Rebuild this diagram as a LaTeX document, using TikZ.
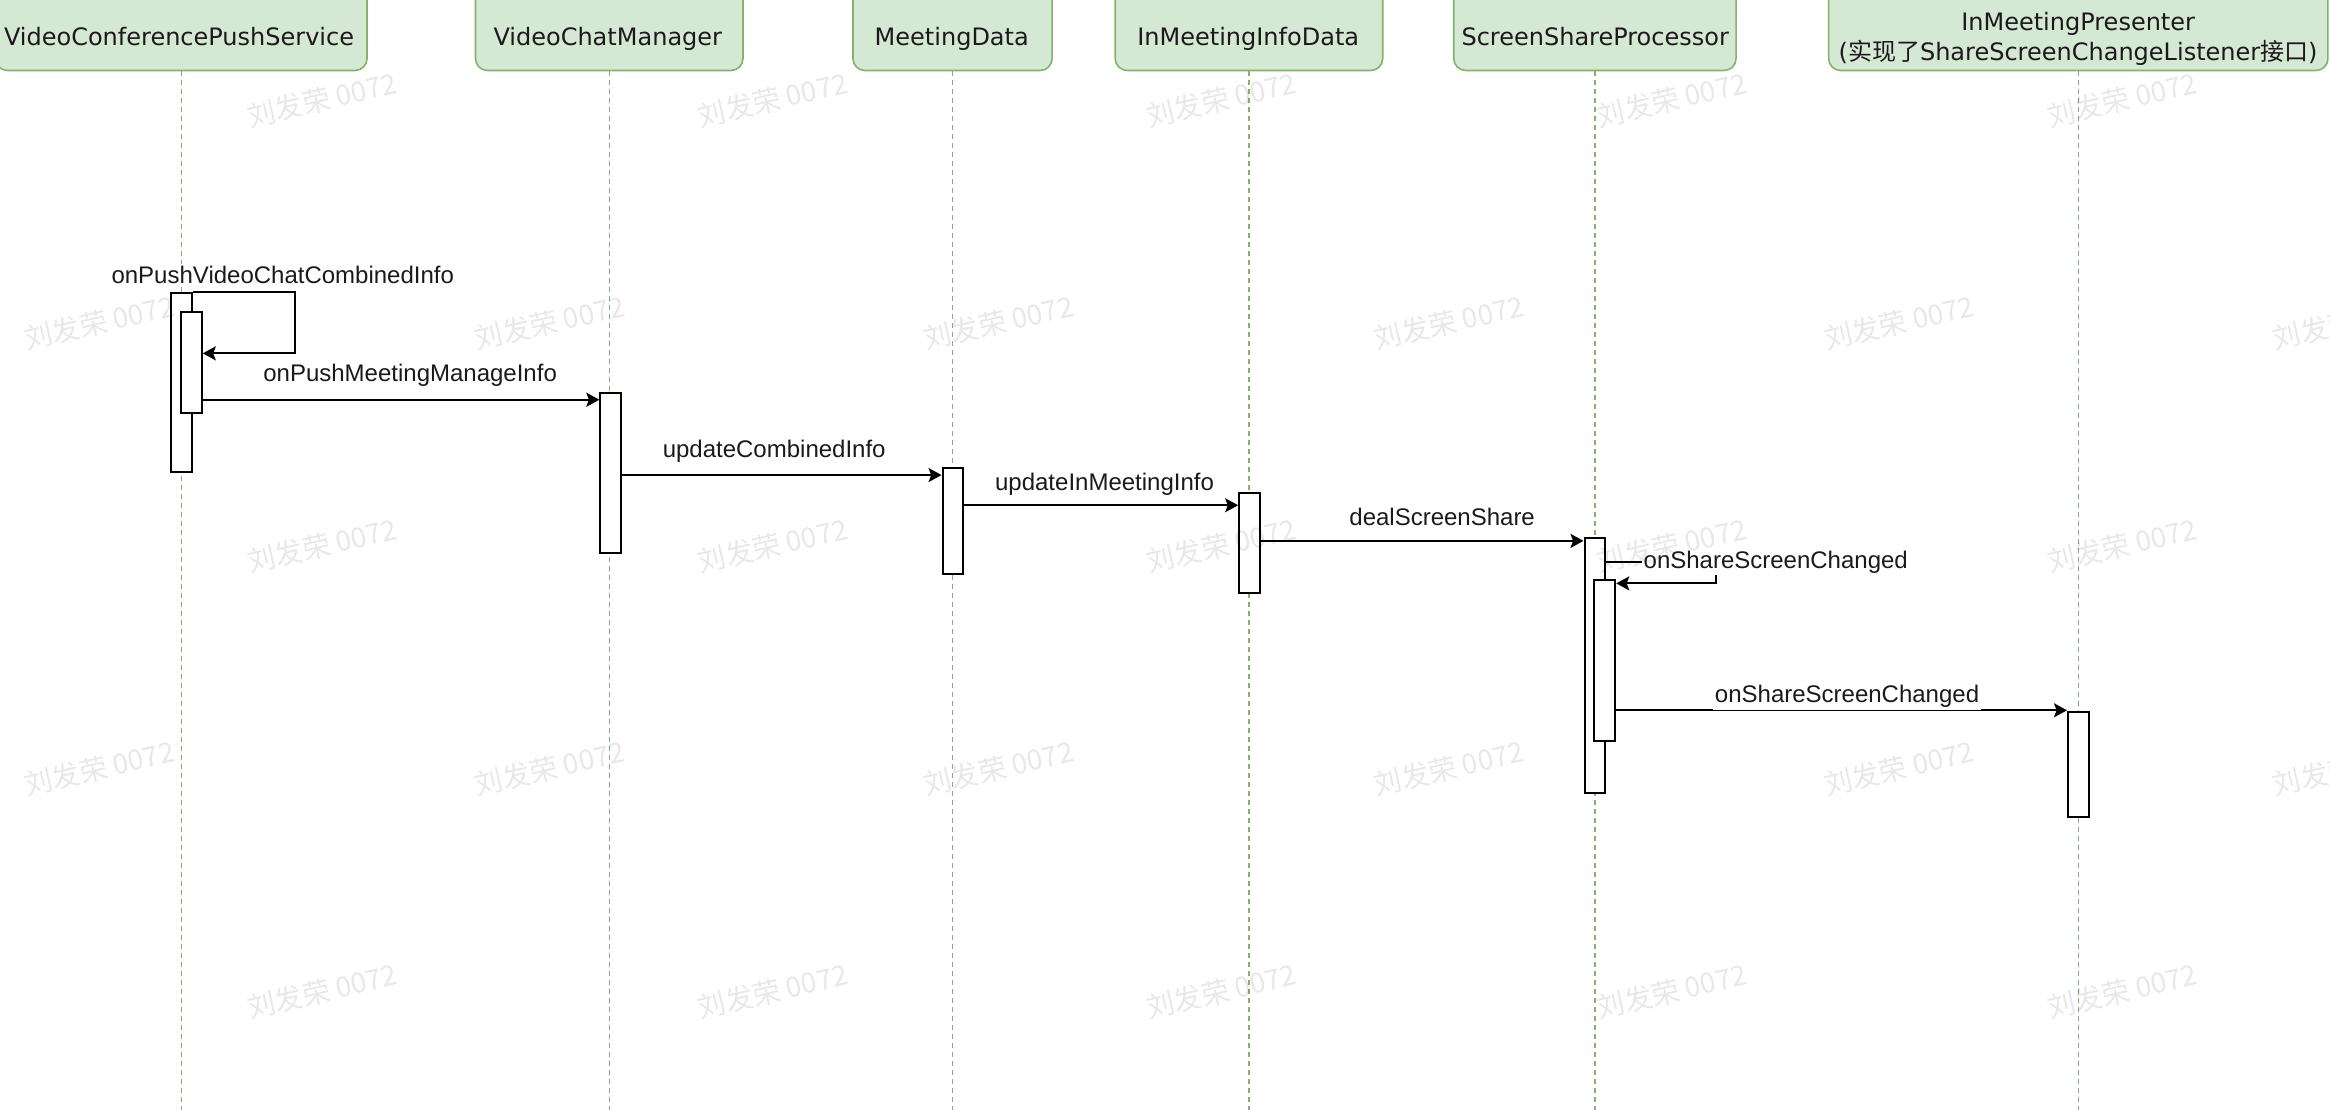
\documentclass[tikz,border=0pt]{standalone}
\usepackage{fontspec}
\setmainfont{Liberation Sans}
\newfontfamily\hdrfont{DejaVu Sans}
\newfontfamily\cjk{Noto Sans CJK SC}
\usetikzlibrary{arrows.meta}
\newlength\px \setlength\px{0.743pt}
\definecolor{hdrfill}{HTML}{D5E8D4}
\definecolor{hdrline}{HTML}{82B366}
\definecolor{lifec}{HTML}{82B366}
\definecolor{txt}{HTML}{1A1A1A}
\begin{document}
\begin{tikzpicture}[x=0.743pt, y=-0.743pt,
  hdrbox/.style={draw=hdrline, fill=hdrfill, line width=0.8pt, rounded corners=6pt, inner sep=0pt, rectangle},
  hdrtext/.style={font=\hdrfont\fontsize{12}{14}\selectfont, text=txt, inner sep=0pt, anchor=base},
  life/.style={draw=lifec, line width=0.6pt, dash pattern=on 2.5pt off 2pt},
  actbar/.style={draw=black, fill=white, line width=1pt, minimum width=14\px, inner sep=0pt, rectangle},
  msg/.style={draw=black, line width=1pt, -{Stealth[length=6.5pt,width=7pt,inset=1.3pt]}},
  msglabel/.style={font=\fontsize{12}{14}\selectfont, text=txt, fill=white, inner sep=1pt, anchor=base},
  wmark/.style={font=\cjk\fontsize{14}{16}\selectfont, text=black, text opacity=0.09, rotate=13, inner sep=0pt},
]
\useasboundingbox (0,0) rectangle (1568,747);
\fill[white] (0,0) rectangle (1568,747);
\coordinate (bottom) at (0,747);

% header boxes
\node[hdrbox, minimum width=250\px, minimum height=60\px, anchor=south] (h1) at (122,48) {};
\node[hdrbox, minimum width=180\px, minimum height=60\px, anchor=south] (h2) at (410,48) {};
\node[hdrbox, minimum width=134\px, minimum height=60\px, anchor=south] (h3) at (641,48) {};
\node[hdrbox, minimum width=180\px, minimum height=60\px, anchor=south] (h4) at (840.5,48) {};
\node[hdrbox, minimum width=190\px, minimum height=60\px, anchor=south] (h5) at (1073.3,48) {};
\node[hdrbox, minimum width=336\px, minimum height=60\px, anchor=south] (h6) at (1398.6,48) {};

% lifelines
\foreach \h in {h1,h2,h3,h4,h5,h6}
  \draw[life] (\h.south) -- (\h.south |- bottom);

% header texts
\node[hdrtext] (t1) at (120.5,30.4) {VideoConferencePushService};
\node[hdrtext] (t2) at (409,30.4) {VideoChatManager};
\node[hdrtext] (t3) at (640.5,30.4) {MeetingData};
\node[hdrtext] (t4) at (840,30.4) {InMeetingInfoData};
\node[hdrtext] (t5) at (1073.5,30.4) {ScreenShareProcessor};
\node[hdrtext] (t6a) at (1398.5,20.8) {InMeetingPresenter};
\node[hdrtext] (t6b) at (1398.5,40.6) {({\cjk 实现了}ShareScreenChangeListener{\cjk 接口})};

% activation bars
\node[actbar, minimum height=120.4\px] (a1) at (122.3,257.2) {};
\node[actbar, minimum height=68\px]    (a2) at (128.8,244) {};
\node[actbar, minimum height=108.2\px] (b1) at (411,318.3) {};
\node[actbar, minimum height=71\px]    (c1) at (641.3,350.6) {};
\node[actbar, minimum height=67.8\px]  (d1) at (840.9,365.4) {};
\node[actbar, minimum height=171.5\px] (e1) at (1073.3,448) {};
\node[actbar, minimum height=108.5\px] (e2) at (1080,444.3) {};
\node[actbar, minimum height=70.6\px]  (p1) at (1398.7,514.3) {};

% message levels
\coordinate (k1) at (198.5,237.8);
\coordinate (m2) at (0,269);
\coordinate (m3) at (0,319.7);
\coordinate (m4) at (0,340);
\coordinate (m5) at (0,364);
\coordinate (k2a) at (1154.8,378);
\coordinate (k2b) at (1154.8,392.6);
\coordinate (m7) at (0,478);

% messages
\draw[msg] (a1.north east) -| (k1) -- (a2.east |- k1);
\draw[msg] (a2.east |- m2) -- (b1.west |- m2);
\draw[msg] (b1.east |- m3) -- (c1.west |- m3);
\draw[msg] (c1.east |- m4) -- (d1.west |- m4);
\draw[msg] (d1.east |- m5) -- (e1.west |- m5);
\draw[msg] (e1.east |- k2a) -- (k2a) -- (k2b) -- (e2.east |- k2b);
\draw[msg] (e2.east |- m7) -- (p1.west |- m7);

% labels
\node[msglabel] (l1) at (190.3,191) {onPushVideoChatCombinedInfo};
\node[msglabel] (l2) at (276,257) {onPushMeetingManageInfo};
\node[msglabel] (l3) at (521,308) {updateCombinedInfo};
\node[msglabel] (l4) at (743.3,329.8) {updateInMeetingInfo};
\node[msglabel] (l5) at (970.5,353.8) {dealScreenShare};
\node[msglabel, anchor=base west] (l6) at (1104.5,382.5) {onShareScreenChanged};
\node[msglabel] (l7) at (1243,473) {onShareScreenChanged};

% watermarks
\foreach \yy in {67,367,667}
  \foreach \xx in {217,520,822,1125,1428}
    \node[wmark] at (\xx,\yy) {刘发荣 0072};
\foreach \yy in {217,517}
  \foreach \xx in {67,370,672,975,1278,1580}
    \node[wmark] at (\xx,\yy) {刘发荣 0072};
\end{tikzpicture}
\end{document}
